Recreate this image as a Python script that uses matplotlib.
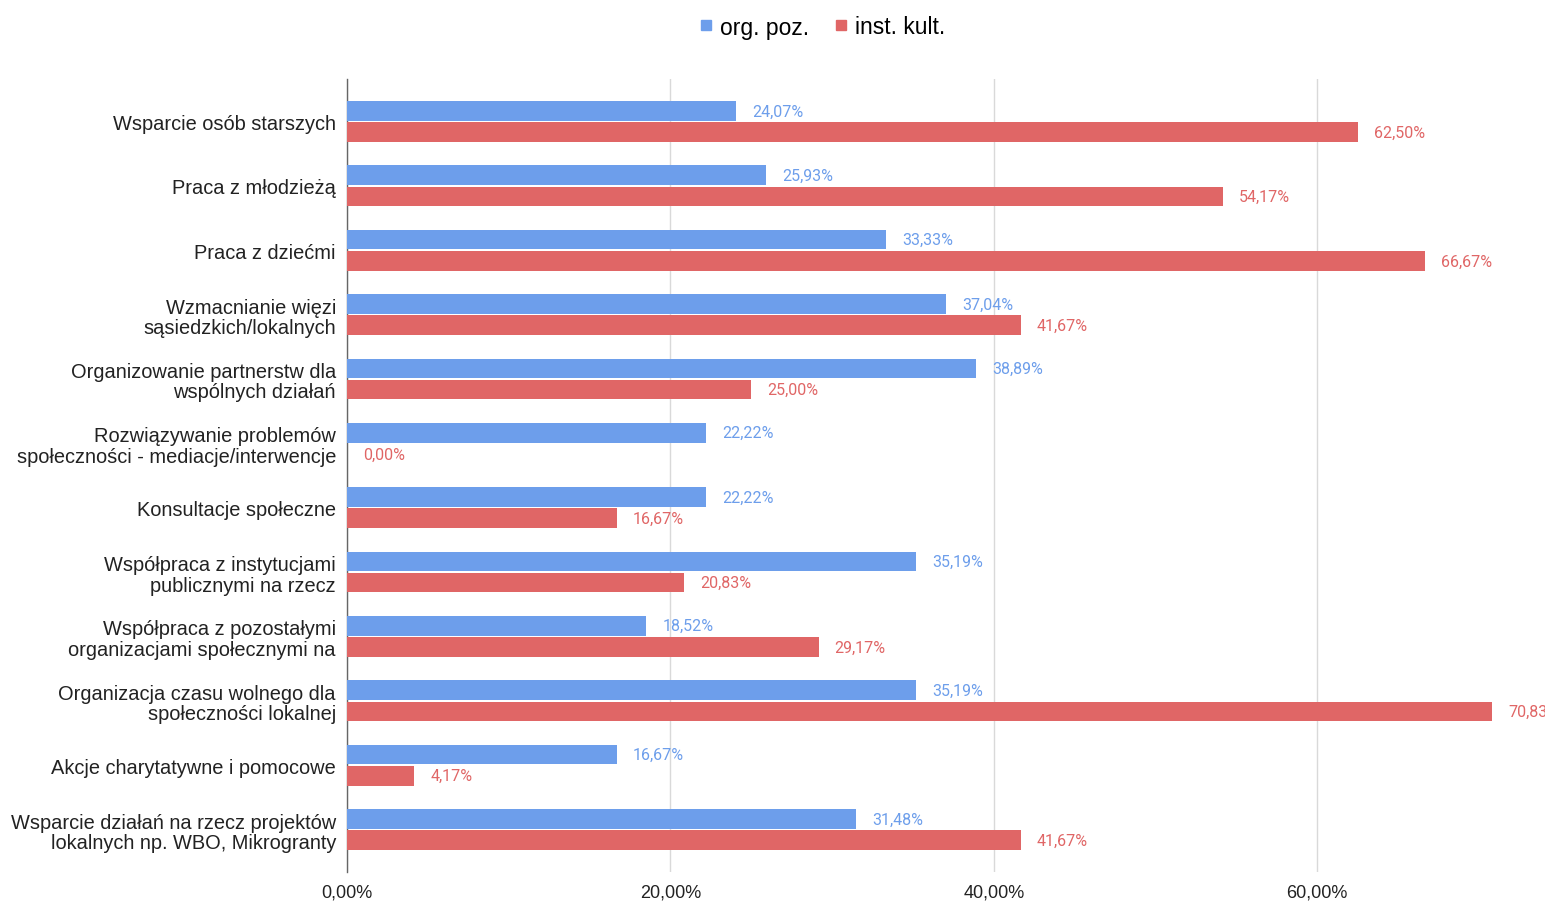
import matplotlib
matplotlib.use("Agg")
import matplotlib.pyplot as plt
from matplotlib.lines import Line2D
import numpy as np

categories = [
    "Wsparcie osób starszych",
    "Praca z młodzieżą",
    "Praca z dziećmi",
    "Wzmacnianie więzi\nsąsiedzkich/lokalnych",
    "Organizowanie partnerstw dla\nwspólnych działań",
    "Rozwiązywanie problemów\nspołeczności - mediacje/interwencje",
    "Konsultacje społeczne",
    "Współpraca z instytucjami\npublicznymi na rzecz",
    "Współpraca z pozostałymi\norganizacjami społecznymi na",
    "Organizacja czasu wolnego dla\nspołeczności lokalnej",
    "Akcje charytatywne i pomocowe",
    "Wsparcie działań na rzecz projektów\nlokalnych np. WBO, Mikrogranty",
]
org_poz = [24.07, 25.93, 33.33, 37.04, 38.89, 22.22, 22.22, 35.19, 18.52, 35.19, 16.67, 31.48]
inst_kult = [62.50, 54.17, 66.67, 41.67, 25.00, 0.00, 16.67, 20.83, 29.17, 70.83, 4.17, 41.67]
series_names = ["org. poz.", "inst. kult."]
xticks = [0, 20, 40, 60]

BLUE = "#6d9eeb"
RED = "#e06666"

W, H = 1545, 904
fig = plt.figure(figsize=(W / 100, H / 100), dpi=100)
left = 347 / W
top = 1 - 80 / H
bottom = 1 - 873 / H
ax = fig.add_axes([left, bottom, 1 - left, top - bottom])

y = np.arange(len(categories))
off = 0.165
bh = 0.305
ax.barh(y - off, org_poz, height=bh, color=BLUE, zorder=3)
ax.barh(y + off, inst_kult, height=bh, color=RED, zorder=3)

for yi, v in zip(y, org_poz):
    ax.annotate(f"{v:.2f}%".replace(".", ","), (v, yi - off), xytext=(11.5, 0),
                textcoords="offset points", va="center", ha="left",
                fontsize=11.5, family="Roboto", color=BLUE, annotation_clip=False)
for yi, v in zip(y, inst_kult):
    ax.annotate(f"{v:.2f}%".replace(".", ","), (v, yi + off), xytext=(11.5, 0),
                textcoords="offset points", va="center", ha="left",
                fontsize=11.5, family="Roboto", color=RED, annotation_clip=False)

ax.set_xlim(0, (W - 347) / 16.17)
ax.set_ylim(len(categories) - 1 + 0.66, -0.66)
ax.set_yticks(y)
ax.set_yticklabels(categories, fontsize=14.4, family="Liberation Sans", color="#222222",
                   linespacing=1.1)
ax.set_xticks(xticks)
ax.set_xticklabels([f"{t:.2f}%".replace(".", ",") for t in xticks], fontsize=13,
                   family="Liberation Sans", color="#222222")
ax.tick_params(axis="both", length=0)
ax.tick_params(axis="y", pad=8)
ax.tick_params(axis="x", pad=8)
for s in ["top", "right", "bottom"]:
    ax.spines[s].set_visible(False)
ax.spines["left"].set_color("#666666")
ax.spines["left"].set_linewidth(1.0)
ax.grid(axis="x", color="#d9d9d9", linewidth=1.0, zorder=0)
ax.set_axisbelow(True)

handles = [Line2D([], [], marker="s", linestyle="none", markersize=7.5, color=BLUE),
           Line2D([], [], marker="s", linestyle="none", markersize=7.5, color=RED)]
fig.legend(handles, series_names, loc="center", bbox_to_anchor=(821 / W, 1 - 28 / H),
           ncol=2, frameon=False, prop={"family": "Liberation Sans", "size": 16.5},
           handletextpad=0.2, columnspacing=1.0, handlelength=0.8)

fig.savefig("out.png", dpi=100)
